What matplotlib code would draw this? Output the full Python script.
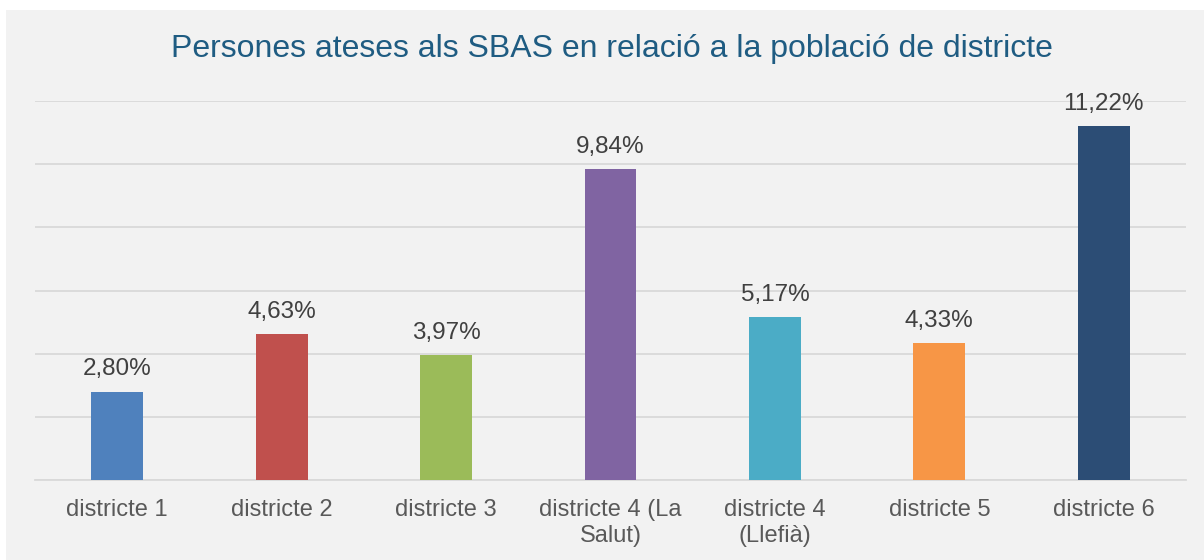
import matplotlib
matplotlib.use("Agg")
import matplotlib.pyplot as plt
from matplotlib.patches import Rectangle

categories = ["districte 1", "districte 2", "districte 3", "districte 4 (La\nSalut)",
              "districte 4\n(Llefià)", "districte 5", "districte 6"]
values = [2.80, 4.63, 3.97, 9.84, 5.17, 4.33, 11.22]
colors = ["#4F81BD", "#C0504D", "#9BBB59", "#8064A2", "#4BACC6", "#F79646", "#2C4D75"]
title = "Persones ateses als SBAS en relació a la població de districte"

plt.rcParams['font.family'] = ['Liberation Sans', 'DejaVu Sans']

fig = plt.figure(figsize=(12.04, 5.6), dpi=100)
fig.patch.set_facecolor("white")
fig.patches.append(Rectangle((6/1204, 0), 1 - 6/1204, 550/560, transform=fig.transFigure,
                             facecolor="#F2F2F2", edgecolor="none", zorder=-10))

ax = fig.add_axes([35/1204, 1 - 480/560, (1186 - 35)/1204, (480 - 101)/560])
ax.set_zorder(5)
ax.set_facecolor("none")
x = range(len(categories))
bars = ax.bar(x, values, width=0.316, color=colors, zorder=3)
ax.set_xlim(-0.5, len(categories) - 0.5)
ax.set_ylim(0, 12)
ax.set_yticks([0, 2, 4, 6, 8, 10, 12])
ax.yaxis.grid(True, color="#D9D9D9", linewidth=1.3, zorder=0)
ax.set_axisbelow(True)
ax.tick_params(axis='y', left=False, labelleft=False)
ax.tick_params(axis='x', bottom=False, labelsize=17, labelcolor="#595959", pad=10)
ax.set_xticks(list(x))
ax.set_xticklabels(categories, linespacing=1.25)
for s in ["top", "right", "left"]:
    ax.spines[s].set_visible(False)
ax.spines["bottom"].set_color("#D9D9D9")
ax.spines["bottom"].set_linewidth(1.3)

for xi, v in zip(x, values):
    ax.annotate(f"{v:.2f}%".replace(".", ","), (xi, v), xytext=(0, 8), textcoords="offset points",
                ha="center", va="bottom", fontsize=17.5, color="#404040")

fig.text(0.5 + 10/1204, 1 - 49/560, title, ha="center", va="center", fontsize=23, color="#1F5C82",
         zorder=6)

fig.savefig("out.png", dpi=100)
